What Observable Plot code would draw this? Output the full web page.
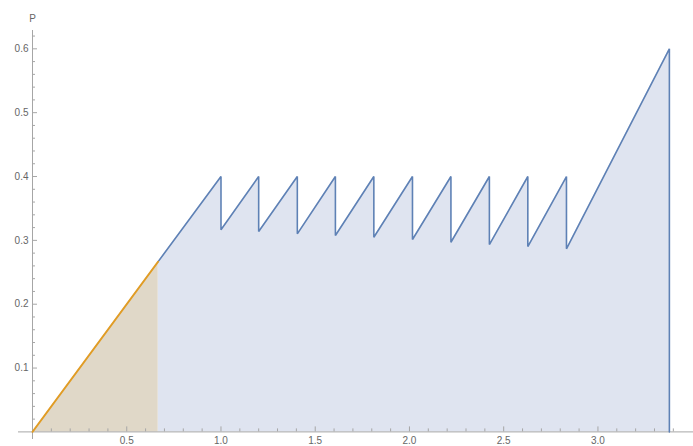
<!DOCTYPE html>
<html>
<head>
<meta charset="utf-8">
<script src="https://cdn.jsdelivr.net/npm/d3@7"></script>
<script src="https://cdn.jsdelivr.net/npm/@observablehq/plot@0.6"></script>
<style>
  html, body { margin: 0; padding: 0; background: #fff; }
  #chart svg { display: block; }
</style>
</head>
<body>
<div id="chart"></div>
<script>
// Initial ramp (orange), 0 → 2/3
const rampX = [0, 0.6667];
const rampP = [0, 0.2667];

// Sawtooth: each peak reaches 0.4 then drops to the trough value
const peakX = [1.0, 1.2, 1.405, 1.607, 1.811, 2.016, 2.22, 2.424, 2.628, 2.833];
const peakP = 0.4;
const troughP = [0.3165, 0.314, 0.3102, 0.3076, 0.3049, 0.3013, 0.297, 0.2934, 0.2903, 0.2867];

// Final climb and drop to zero
const endX = 3.379;
const endP = 0.6;

// Axis ticks
const xMajor = [0.5, 1.0, 1.5, 2.0, 2.5, 3.0];
const xLabels = ["0.5", "1.0", "1.5", "2.0", "2.5", "3.0"];
const yMajor = [0.1, 0.2, 0.3, 0.4, 0.5, 0.6];
const yLabels = ["0.1", "0.2", "0.3", "0.4", "0.5", "0.6"];

const ramp = rampX.map((x, i) => ({x, p: rampP[i]}));
const path = [{x: rampX[1], p: rampP[1]}];
peakX.forEach((x, i) => { path.push({x, p: peakP}); path.push({x, p: troughP[i]}); });
path.push({x: endX, p: endP});
path.push({x: endX, p: 0});

const xMinor = d3.range(1, 35).map(i => i / 10).filter(v => !xMajor.some(m => Math.abs(m - v) < 1e-9));
const yMinor = d3.range(1, 32).map(i => i / 50).filter(v => !yMajor.some(m => Math.abs(m - v) < 1e-9));

const axisColor = "#a6a6a6";
const labelColor = "#666";
const blue = "#5e81b5";
const orange = "#e19c24";

const pxX = 188.5, pxY = 638.5; // pixels per unit, used for tick lengths
const tick = (px, per) => px / per;

const chart = Plot.plot({
  width: 693,
  height: 446,
  marginLeft: 18,
  marginRight: 0,
  marginTop: 30,
  marginBottom: 7,
  x: {domain: [-0.0743, 3.507], axis: null},
  y: {domain: [-0.0119, 0.6287], axis: null},
  style: {fontFamily: "Liberation Sans, Arial, sans-serif", fontSize: "10px", overflow: "visible"},
  marks: [
    // filled regions under each curve (explicit baseline, no stacking)
    Plot.area(path, {x1: "x", y1: 0, y2: "p", fill: "#dfe4f0"}),
    Plot.area(ramp, {x1: "x", y1: 0, y2: "p", fill: "#e0d8c8"}),
    // axes through the origin
    Plot.ruleY([0], {stroke: axisColor, strokeWidth: 1}),
    Plot.ruleX([0], {stroke: axisColor, strokeWidth: 1}),
    Plot.ruleX(xMajor, {x: d => d, y1: 0, y2: tick(5, pxY), stroke: axisColor}),
    Plot.ruleX(xMinor, {x: d => d, y1: 0, y2: tick(3, pxY), stroke: axisColor}),
    Plot.ruleY(yMajor, {y: d => d, x1: 0, x2: tick(5, pxX), stroke: axisColor}),
    Plot.ruleY(yMinor, {y: d => d, x1: 0, x2: tick(3, pxX), stroke: axisColor}),
    Plot.text(xMajor, {x: d => d, y: 0, dy: 9, text: (d, i) => xLabels[i], fill: labelColor, textAnchor: "middle"}),
    Plot.text(yMajor, {x: 0, y: d => d, dx: -4, text: (d, i) => yLabels[i], fill: labelColor, textAnchor: "end"}),
    Plot.text(["P"], {x: 0, frameAnchor: "top", dy: -16, text: d => d, fill: labelColor, textAnchor: "middle"}),
    // curves
    Plot.line(path, {x: "x", y: "p", stroke: blue, strokeWidth: 1.6, strokeLinejoin: "miter"}),
    Plot.line(ramp, {x: "x", y: "p", stroke: orange, strokeWidth: 1.8})
  ]
});
document.getElementById("chart").appendChild(chart);
</script>
</body>
</html>
